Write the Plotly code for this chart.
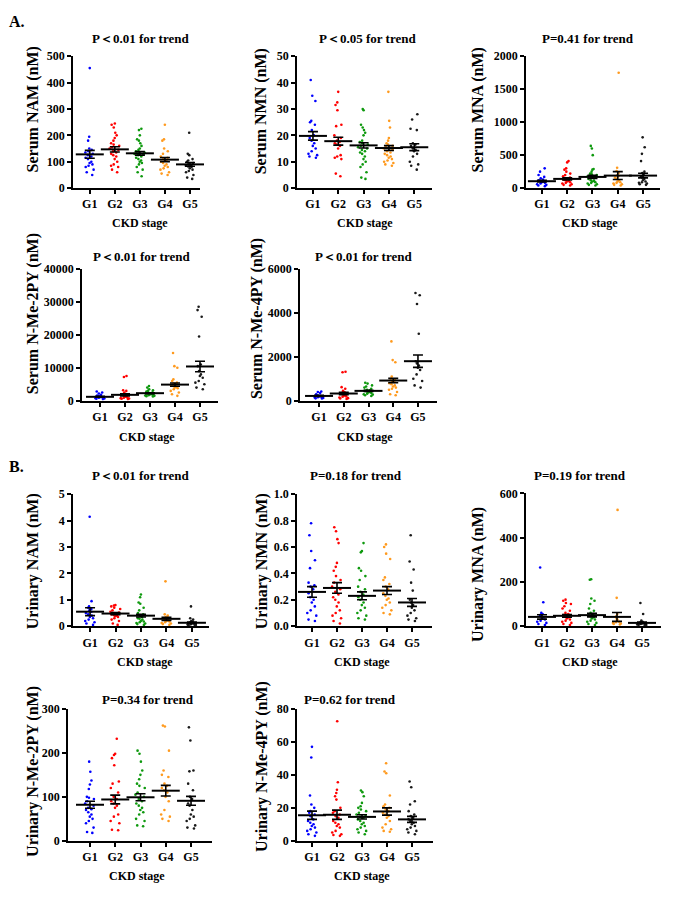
import plotly.graph_objects as go

W, H = 685, 899
groups = ["G1", "G2", "G3", "G4", "G5"]
colors = ["#0000FF", "#FF0000", "#0E990E", "#FF9A1E", "#1A1A1A"]

# ---------------- Data ----------------
serum_nam = [
    [455, 195, 180, 150, 145, 140, 135, 130, 125, 120, 115, 110, 100, 95, 90, 85, 80, 70, 60, 50],
    [245, 240, 230, 210, 200, 190, 180, 170, 165, 160, 155, 150, 145, 140, 135, 130, 125, 120, 110, 100, 90, 85, 80, 70, 60],
    [225, 220, 200, 185, 180, 170, 160, 150, 145, 140, 138, 135, 132, 130, 128, 125, 120, 115, 110, 105, 100, 95, 90, 80, 70, 60, 45],
    [240, 185, 180, 150, 140, 130, 120, 115, 110, 105, 100, 95, 90, 85, 80, 75, 70, 60, 55, 50],
    [210, 130, 125, 110, 105, 100, 95, 90, 88, 85, 82, 80, 75, 70, 65, 60, 50, 40, 35],
]
serum_nam_mean = [128, 147, 132, 108, 90]
serum_nam_sem = [15, 10, 7, 8, 7]

serum_nmn = [
    [41, 35, 33, 25.5, 25, 24, 22, 20, 19, 18, 17, 16, 15, 14, 13, 12.5, 12, 11.5],
    [36.5, 32.5, 31.5, 29.5, 24, 23.5, 20, 19, 18, 17.5, 17, 16.5, 16, 15, 12.5, 12, 11.5, 11, 5.5, 4.5],
    [30, 29.5, 24, 23, 22, 21, 20, 18, 17.5, 17, 16.5, 16, 15.5, 15, 14.5, 14, 13.5, 13, 12, 11, 10, 9, 8, 6, 4, 3.5],
    [36.5, 25.5, 23, 19, 18, 17, 16.5, 16, 15.5, 15, 14.5, 14, 13.5, 13, 12.5, 12, 11.5, 11, 10.5, 10, 9.5, 9, 8.5],
    [28, 26, 22.5, 22, 17, 16.5, 16, 15, 14.5, 14, 13, 12, 10, 9, 8.5, 7],
]
serum_nmn_mean = [19.8, 17.8, 16.2, 15.2, 15.5]
serum_nmn_sem = [1.6, 1.5, 1.0, 0.9, 1.3]

serum_mna = [
    [300, 250, 200, 170, 150, 130, 120, 110, 100, 90, 80, 70, 60, 50, 40, 30],
    [410, 390, 300, 280, 250, 220, 200, 180, 160, 150, 140, 130, 120, 110, 100, 90, 80, 70, 60, 50, 40],
    [640, 600, 500, 290, 280, 250, 220, 210, 200, 190, 180, 170, 160, 150, 140, 120, 110, 100, 90, 80, 70, 60, 50, 40],
    [1750, 310, 260, 230, 200, 180, 160, 140, 120, 100, 90, 80, 70, 60, 50, 40],
    [770, 620, 520, 410, 250, 230, 200, 180, 160, 140, 120, 100, 90, 80, 70, 60, 50],
]
serum_mna_mean = [105, 140, 170, 190, 190]
serum_mna_sem = [12, 15, 25, 60, 35]

serum_2py = [
    [2800, 2500, 2200, 1800, 1600, 1400, 1200, 1100, 1000, 900, 800, 700, 600, 500],
    [7500, 7200, 3200, 3000, 2500, 2000, 1800, 1500, 1300, 1200, 1000, 900, 800, 700, 600, 500],
    [4500, 4000, 3500, 3200, 3000, 2800, 2600, 2400, 2300, 2200, 2100, 2000, 1900, 1800, 1700, 1600, 1500, 1400, 1300],
    [14500, 10500, 10000, 6500, 6000, 5500, 5200, 5000, 4800, 4500, 4200, 4000, 3800, 3500, 3000, 2500, 2000, 1500],
    [28500, 27500, 25500, 19500, 11000, 10500, 9000, 8000, 7500, 7000, 6000, 5500, 5000, 4000, 3500],
]
serum_2py_mean = [1200, 1800, 2300, 4900, 10400]
serum_2py_sem = [150, 300, 150, 500, 1600]

serum_4py = [
    [420, 400, 350, 300, 250, 220, 200, 180, 160, 150, 130, 110, 100],
    [1320, 1300, 620, 550, 450, 400, 350, 300, 250, 220, 200, 180, 150, 120, 100, 80],
    [820, 780, 700, 650, 600, 550, 500, 480, 450, 420, 400, 380, 350, 320, 300, 280, 250, 220],
    [2700, 1850, 1750, 1100, 1000, 950, 900, 850, 800, 750, 700, 650, 600, 550, 500, 400, 300, 250],
    [4900, 4800, 4400, 3050, 1800, 1700, 1600, 1500, 1400, 1200, 1000, 900, 700, 600],
]
serum_4py_mean = [220, 330, 450, 920, 1800]
serum_4py_sem = [25, 50, 30, 100, 280]

urine_nam = [
    [4.15, 0.95, 0.75, 0.7, 0.65, 0.6, 0.55, 0.5, 0.45, 0.4, 0.35, 0.3, 0.25, 0.2, 0.15, 0.1, 0.05],
    [0.8, 0.78, 0.75, 0.7, 0.65, 0.6, 0.55, 0.52, 0.5, 0.48, 0.45, 0.42, 0.4, 0.38, 0.35, 0.3, 0.25, 0.2, 0.1, 0.05],
    [1.2, 1.1, 0.9, 0.85, 0.7, 0.6, 0.5, 0.45, 0.4, 0.35, 0.3, 0.28, 0.25, 0.2, 0.18, 0.15, 0.12, 0.1, 0.08, 0.05],
    [1.7, 0.45, 0.4, 0.35, 0.3, 0.28, 0.25, 0.22, 0.2, 0.18, 0.15, 0.12, 0.1, 0.08, 0.05],
    [0.75, 0.3, 0.25, 0.2, 0.18, 0.15, 0.13, 0.12, 0.1, 0.08, 0.07, 0.06, 0.05, 0.04, 0.03],
]
urine_nam_mean = [0.55, 0.48, 0.40, 0.28, 0.13]
urine_nam_sem = [0.15, 0.04, 0.05, 0.06, 0.03]

urine_nmn = [
    [0.78, 0.69, 0.57, 0.5, 0.44, 0.33, 0.31, 0.3, 0.28, 0.25, 0.22, 0.2, 0.18, 0.15, 0.12, 0.1, 0.08, 0.05, 0.04],
    [0.75, 0.72, 0.66, 0.63, 0.48, 0.45, 0.42, 0.38, 0.35, 0.33, 0.3, 0.28, 0.26, 0.24, 0.22, 0.2, 0.18, 0.15, 0.12, 0.1, 0.08, 0.06, 0.04, 0.02],
    [0.63, 0.57, 0.56, 0.44, 0.42, 0.38, 0.35, 0.3, 0.28, 0.26, 0.24, 0.22, 0.2, 0.18, 0.16, 0.14, 0.12, 0.1, 0.08, 0.06, 0.05],
    [0.62, 0.6, 0.55, 0.51, 0.37, 0.35, 0.32, 0.3, 0.28, 0.25, 0.23, 0.21, 0.2, 0.18, 0.16, 0.14, 0.12, 0.1, 0.09],
    [0.69, 0.49, 0.43, 0.33, 0.27, 0.2, 0.18, 0.16, 0.14, 0.12, 0.1, 0.08, 0.06, 0.05, 0.04],
]
urine_nmn_mean = [0.26, 0.29, 0.23, 0.27, 0.18]
urine_nmn_sem = [0.04, 0.04, 0.03, 0.03, 0.03]

urine_mna = [
    [265, 108, 60, 55, 50, 45, 40, 35, 30, 25, 20, 15, 10, 5],
    [120, 115, 105, 100, 90, 80, 70, 60, 55, 50, 45, 40, 35, 30, 25, 20, 15, 10, 5],
    [212, 210, 125, 115, 100, 80, 70, 60, 55, 50, 45, 40, 35, 30, 25, 20, 15, 10, 5],
    [525, 128, 55, 45, 35, 30, 25, 20, 18, 15, 12, 10, 8],
    [105, 55, 25, 20, 18, 16, 15, 14, 12, 10, 8, 6, 5, 4],
]
urine_mna_mean = [42, 47, 50, 42, 15]
urine_mna_sem = [10, 6, 8, 20, 4]

urine_2py = [
    [180, 157, 137, 128, 118, 100, 98, 95, 90, 85, 80, 75, 72, 70, 65, 60, 55, 50, 45, 40, 30, 20, 18],
    [232, 198, 195, 188, 172, 135, 130, 120, 110, 100, 95, 90, 85, 80, 75, 60, 55, 45, 40, 25, 24],
    [205, 198, 180, 160, 150, 140, 130, 125, 120, 110, 105, 100, 95, 90, 85, 80, 75, 70, 65, 60, 50, 45, 35, 33],
    [262, 260, 205, 160, 150, 145, 130, 125, 120, 115, 110, 100, 90, 70, 60, 55, 50, 45],
    [258, 228, 160, 158, 130, 115, 100, 95, 85, 80, 70, 60, 55, 50, 45, 35, 30, 28],
]
urine_2py_mean = [82, 94, 99, 114, 91]
urine_2py_sem = [8, 10, 8, 12, 10]

urine_4py = [
    [57, 50.5, 27.5, 22, 20, 18, 17, 16, 15, 13, 12, 11, 10, 9, 8, 7, 6, 5, 4, 3],
    [72.5, 35.5, 31, 29, 27, 25, 20, 18, 17, 16, 15, 14, 12, 11, 10, 9, 8, 6, 5, 4, 3.5, 3],
    [30.5, 29.5, 27, 23, 21, 20, 19, 18, 17, 16, 15, 14.5, 14, 13, 12, 11, 10, 9, 8, 7, 6, 5, 4],
    [47, 42, 41, 27.5, 22, 21, 20, 19, 18, 17, 16, 15, 14, 12, 10, 8, 7, 6, 5.5],
    [36, 32.5, 24, 22, 18, 16, 15, 14, 13, 12, 11, 10, 9, 8, 7, 6, 5, 4],
]
urine_4py_mean = [15.5, 15.8, 14.5, 17.8, 13.0]
urine_4py_sem = [2.5, 2.8, 1.3, 2.2, 1.8]

titles = ["P＜0.01 for trend", "P＜0.05 for trend", "P=0.41 for trend",
          "P＜0.01 for trend", "P＜0.01 for trend",
          "P＜0.01 for trend", "P=0.18 for trend", "P=0.19 for trend",
          "P=0.34 for trend", "P=0.62 for trend"]
ylabels = ["Serum NAM (nM)", "Serum NMN (nM)", "Serum MNA (nM)",
           "Serum N-Me-2PY (nM)", "Serum N-Me-4PY (nM)",
           "Urinary NAM (nM)", "Urinary NMN (nM)", "Urinary MNA (nM)",
           "Urinary N-Me-2PY (nM)", "Urinary N-Me-4PY (nM)"]
yranges = [500, 50, 2000, 40000, 6000, 5, 1.0, 600, 300, 80]
ydticks = [100, 10, 500, 10000, 2000, 1, 0.2, 200, 100, 20]
yformats = ["d", "d", "d", "d", "d", "d", ".1f", "d", "d", "d"]

datasets = [serum_nam, serum_nmn, serum_mna, serum_2py, serum_4py,
            urine_nam, urine_nmn, urine_mna, urine_2py, urine_4py]
means = [serum_nam_mean, serum_nmn_mean, serum_mna_mean, serum_2py_mean, serum_4py_mean,
         urine_nam_mean, urine_nmn_mean, urine_mna_mean, urine_2py_mean, urine_4py_mean]
sems = [serum_nam_sem, serum_nmn_sem, serum_mna_sem, serum_2py_sem, serum_4py_sem,
        urine_nam_sem, urine_nmn_sem, urine_mna_sem, urine_2py_sem, urine_4py_sem]

# ---------------- Layout geometry (pixels) ----------------
# (left, right, top, bottom, x-range lo, x-range hi)
geom = [
    (73, 200, 50, 184, -0.67, 4.40),
    (297, 432, 50, 184, -0.63, 4.70),
    (526, 660, 50, 184, -0.63, 4.67),
    (82, 218, 266, 400, -0.72, 4.72),
    (300, 437, 266, 400, -0.77, 4.77),
    (73, 209, 495, 629, -0.67, 4.67),
    (297, 432, 495, 629, -0.60, 4.80),
    (526, 661, 494, 629, -0.64, 4.76),
    (68, 212, 713, 847, -0.87, 4.83),
    (297, 433, 713, 847, -0.60, 4.84),
]
title_pos = [(140, 32), (367, 32), (588, 32), (141, 253), (363, 253),
             (140, 476), (356, 476), (580, 476), (148, 703), (350, 703)]
xlab_pos = [(140, 219), (365, 219), (590, 219), (147, 437), (365, 437),
            (145, 665), (362, 665), (590, 665), (137, 883), (362, 883)]
ylab_pos = [(33, 104), (261, 106), (478, 104), (33, 312), (257, 317),
            (33, 563), (262, 563), (478, 576), (33, 777), (262, 772)]

FONT = "Liberation Serif, Times New Roman, serif"

fig = go.Figure()
layout = dict(width=W, height=H, margin=dict(l=0, r=0, t=0, b=0),
              paper_bgcolor="white", plot_bgcolor="white", showlegend=False,
              boxmode="overlay",
              font=dict(family=FONT, size=12, color="black", weight="bold"))
annotations = []

for i in range(10):
    k = i + 1
    xa = "x" if k == 1 else f"x{k}"
    ya = "y" if k == 1 else f"y{k}"
    left, right, top, bottom, xlo, xhi = geom[i]
    for g in range(5):
        vals = datasets[i][g]
        fig.add_trace(go.Box(
            x=[g] * len(vals), y=vals, xaxis=xa, yaxis=ya,
            boxpoints="all", jitter=0.9, pointpos=0, width=0.5,
            line=dict(width=0, color="rgba(0,0,0,0)"),
            fillcolor="rgba(0,0,0,0)",
            marker=dict(color=colors[g], size=2.6, line=dict(width=0)),
            hoveron="points",
        ))
    fig.add_trace(go.Scatter(
        x=list(range(5)), y=means[i], xaxis=xa, yaxis=ya, mode="markers",
        marker=dict(symbol="line-ew", size=20, color="black",
                    line=dict(width=2, color="black")),
        error_y=dict(type="data", array=sems[i], width=5, thickness=1.6, color="black"),
        cliponaxis=False,
    ))
    xkey = "xaxis" if k == 1 else f"xaxis{k}"
    ykey = "yaxis" if k == 1 else f"yaxis{k}"
    layout[xkey] = dict(domain=[left / W, right / W], anchor=ya,
                        range=[xlo, xhi], tickmode="array", tickvals=list(range(5)),
                        ticktext=groups, showline=True, linecolor="black", linewidth=1.8,
                        ticks="outside", ticklen=4, tickwidth=1.5, tickcolor="black",
                        showgrid=False, zeroline=False,
                        tickfont=dict(family=FONT, size=12, weight="bold"))
    layout[ykey] = dict(domain=[1 - bottom / H, 1 - top / H], anchor=xa,
                        range=[0, yranges[i]], dtick=ydticks[i], tick0=0,
                        tickformat=yformats[i], showline=True, linecolor="black",
                        linewidth=1.8, ticks="outside", ticklen=4, tickwidth=1.5,
                        tickcolor="black", showgrid=False, zeroline=False,
                        tickfont=dict(family=FONT, size=12, weight="bold"))
    tx, ty = title_pos[i]
    annotations.append(dict(text=titles[i], x=tx / W, y=1 - ty / H, xref="paper", yref="paper",
                            xanchor="center", yanchor="middle", showarrow=False,
                            font=dict(family=FONT, size=13, weight="bold")))
    lx, ly = xlab_pos[i]
    annotations.append(dict(text="CKD stage", x=lx / W, y=1 - ly / H, xref="paper", yref="paper",
                            xanchor="center", yanchor="middle", showarrow=False,
                            font=dict(family=FONT, size=12, weight="bold")))
    yx, yy = ylab_pos[i]
    annotations.append(dict(text=ylabels[i], x=yx / W, y=1 - yy / H, xref="paper", yref="paper",
                            xanchor="center", yanchor="middle", showarrow=False, textangle=-90,
                            font=dict(family=FONT, size=16, weight="bold")))

annotations.append(dict(text="A.", x=7 / W, y=1 - 15 / H, xref="paper", yref="paper",
                        xanchor="left", yanchor="middle", showarrow=False,
                        font=dict(family=FONT, size=16, weight="bold")))
annotations.append(dict(text="B.", x=7 / W, y=1 - 467 / H, xref="paper", yref="paper",
                        xanchor="left", yanchor="middle", showarrow=False,
                        font=dict(family=FONT, size=16, weight="bold")))
layout["annotations"] = annotations
fig.update_layout(**layout)
fig.write_html("out.html", config={"displayModeBar": False},
               post_script="document.body.style.margin='0';document.body.style.overflow='hidden';")
